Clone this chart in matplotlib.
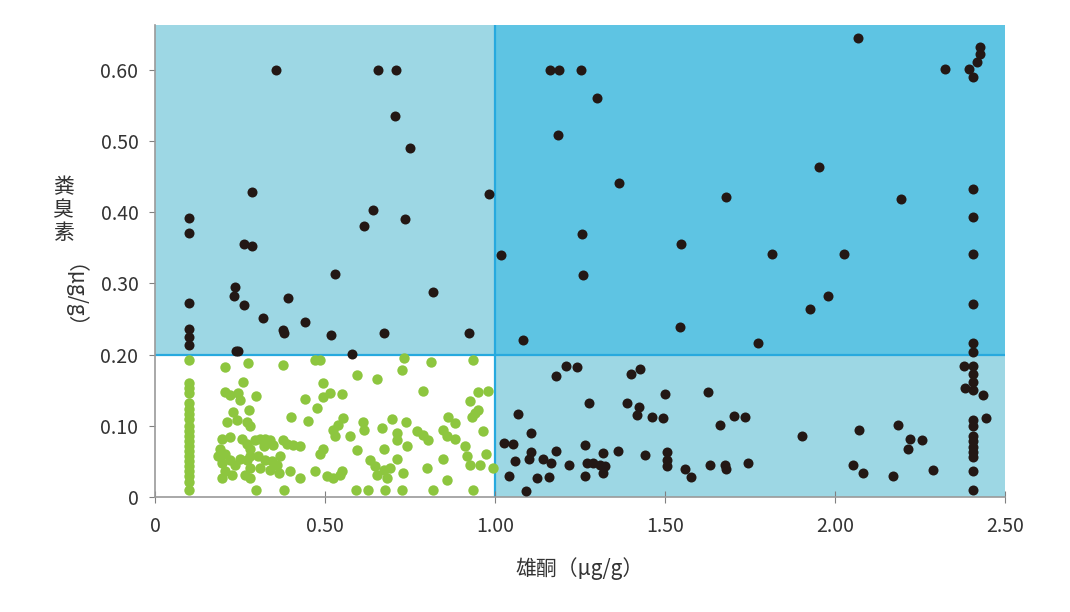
import matplotlib
matplotlib.use("Agg")
import matplotlib.pyplot as plt

# thresholds that split the chart into four zones
X_SPLIT = 1.0
Y_SPLIT = 0.2

x_ticks = [0, 0.5, 1.0, 1.5, 2.0, 2.5]
x_tick_labels = ["0", "0.50", "1.00", "1.50", "2.00", "2.50"]
y_ticks = [0, 0.1, 0.2, 0.3, 0.4, 0.5, 0.6]
y_tick_labels = ["0", "0.10", "0.20", "0.30", "0.40", "0.50", "0.60"]

# samples above either threshold (black)
black_x = [
    0.355, 0.656, 0.710, 0.707, 0.749, 0.286, 0.983, 0.101, 0.101, 0.642,
    0.615, 0.734, 0.260, 0.286, 1.018, 0.529, 0.101, 0.235, 0.232, 0.390,
    0.818, 0.261, 0.316, 0.442, 0.101, 0.101, 0.101, 0.377, 0.380, 0.518,
    0.672, 0.925, 0.237, 0.245, 0.579,
    2.067, 2.426, 2.426, 2.419, 2.394, 2.407, 2.325, 1.162, 1.187, 1.252,
    1.300, 1.184, 1.954, 1.366, 1.679, 2.195, 2.407, 2.407, 1.256, 1.547,
    1.814, 2.026, 2.407, 1.258, 1.980, 1.928, 2.407, 1.543, 1.082, 1.773,
    2.407, 2.407,
    1.209, 1.242, 1.180, 1.426, 1.400, 2.380, 2.407, 2.407, 2.407, 2.382,
    2.407, 2.436, 1.501, 1.626, 1.277, 1.389, 1.424, 1.417, 1.462, 1.495,
    1.068, 1.702, 1.737, 1.661, 2.407, 2.407, 2.446, 2.072, 2.185, 1.904,
    2.221, 2.256, 2.216, 1.106, 1.026, 1.052, 1.107, 1.099, 1.058, 1.140,
    1.164, 1.180, 1.217, 1.265, 1.319, 1.361, 1.270, 1.289, 1.308, 1.324,
    1.319, 1.266, 1.442, 1.505, 1.505, 1.505, 1.559, 1.576, 1.632, 1.676,
    1.681, 1.744, 1.042, 1.124, 1.159, 1.091, 2.053, 2.084, 2.172, 2.288,
    2.407, 2.407, 2.407, 2.407, 2.407, 2.407, 2.407,
]
black_y = [
    0.600, 0.600, 0.600, 0.535, 0.491, 0.429, 0.426, 0.392, 0.371, 0.403,
    0.381, 0.391, 0.356, 0.352, 0.340, 0.313, 0.273, 0.295, 0.283, 0.280,
    0.288, 0.270, 0.252, 0.246, 0.236, 0.225, 0.213, 0.234, 0.230, 0.227,
    0.231, 0.231, 0.205, 0.205, 0.201,
    0.645, 0.632, 0.623, 0.611, 0.601, 0.590, 0.601, 0.600, 0.600, 0.600,
    0.561, 0.508, 0.464, 0.441, 0.421, 0.418, 0.433, 0.393, 0.369, 0.355,
    0.342, 0.341, 0.341, 0.312, 0.283, 0.264, 0.271, 0.239, 0.221, 0.217,
    0.217, 0.204,
    0.184, 0.183, 0.170, 0.180, 0.173, 0.184, 0.184, 0.173, 0.161, 0.153,
    0.150, 0.143, 0.144, 0.148, 0.132, 0.132, 0.126, 0.115, 0.112, 0.111,
    0.117, 0.114, 0.112, 0.101, 0.108, 0.100, 0.111, 0.094, 0.101, 0.085,
    0.081, 0.080, 0.068, 0.090, 0.076, 0.074, 0.063, 0.053, 0.051, 0.054,
    0.047, 0.065, 0.045, 0.073, 0.062, 0.065, 0.048, 0.047, 0.045, 0.044,
    0.033, 0.029, 0.059, 0.063, 0.052, 0.043, 0.039, 0.028, 0.045, 0.045,
    0.039, 0.048, 0.030, 0.027, 0.028, 0.009, 0.045, 0.034, 0.029, 0.038,
    0.085, 0.078, 0.070, 0.063, 0.056, 0.037, 0.010,
]

# samples below both thresholds (green)
green_x = [
    0.101, 0.101, 0.101, 0.101, 0.101, 0.101, 0.101, 0.101, 0.101, 0.101,
    0.101, 0.101, 0.101, 0.101, 0.101, 0.101, 0.101, 0.101, 0.101, 0.101,
    0.101,
    0.206, 0.273, 0.376, 0.471, 0.485, 0.733, 0.812, 0.936, 0.594, 0.653,
    0.727, 0.258, 0.494, 0.789, 0.206, 0.220, 0.245, 0.250, 0.297, 0.441,
    0.495, 0.515, 0.551, 0.475, 0.951, 0.980, 0.926, 0.228, 0.277, 0.400,
    0.449, 0.211, 0.240, 0.270, 0.279, 0.554, 0.613, 0.696, 0.737, 0.863,
    0.882, 0.941, 0.951, 0.931, 0.524, 0.539, 0.529, 0.574, 0.616, 0.669,
    0.711, 0.711, 0.770, 0.789, 0.804, 0.848, 0.858, 0.882, 0.966, 0.196,
    0.220, 0.255, 0.270, 0.294, 0.309, 0.324, 0.338, 0.348, 0.377, 0.387,
    0.407, 0.427, 0.319, 0.279, 0.191, 0.206, 0.186, 0.196, 0.220, 0.235,
    0.250, 0.270, 0.279, 0.304, 0.324, 0.343, 0.368, 0.358, 0.309, 0.279,
    0.338, 0.363, 0.495, 0.485, 0.593, 0.632, 0.672, 0.711, 0.740, 0.848,
    0.912, 0.917, 0.926, 0.956, 0.975, 0.995, 0.206, 0.196, 0.225, 0.265,
    0.279, 0.397, 0.427, 0.471, 0.505, 0.524, 0.544, 0.549, 0.647, 0.652,
    0.672, 0.691, 0.681, 0.730, 0.799, 0.858, 0.297, 0.380, 0.590, 0.625,
    0.677, 0.725, 0.817, 0.934,
]
green_y = [
    0.192, 0.160, 0.153, 0.146, 0.132, 0.124, 0.117, 0.110, 0.099, 0.092,
    0.085, 0.078, 0.071, 0.064, 0.057, 0.050, 0.043, 0.036, 0.029, 0.021,
    0.010,
    0.182, 0.188, 0.186, 0.193, 0.192, 0.195, 0.190, 0.192, 0.171, 0.166,
    0.178, 0.162, 0.160, 0.149, 0.148, 0.143, 0.146, 0.136, 0.142, 0.138,
    0.141, 0.146, 0.145, 0.125, 0.147, 0.149, 0.135, 0.120, 0.122, 0.113,
    0.107, 0.106, 0.108, 0.106, 0.099, 0.111, 0.106, 0.110, 0.106, 0.113,
    0.104, 0.118, 0.122, 0.113, 0.094, 0.101, 0.085, 0.085, 0.094, 0.097,
    0.090, 0.080, 0.092, 0.087, 0.080, 0.094, 0.085, 0.082, 0.092, 0.082,
    0.084, 0.082, 0.075, 0.080, 0.082, 0.082, 0.080, 0.073, 0.080, 0.075,
    0.073, 0.071, 0.071, 0.068, 0.068, 0.061, 0.057, 0.047, 0.052, 0.045,
    0.054, 0.052, 0.057, 0.057, 0.052, 0.050, 0.057, 0.045, 0.040, 0.040,
    0.038, 0.033, 0.068, 0.061, 0.066, 0.052, 0.068, 0.054, 0.071, 0.054,
    0.071, 0.057, 0.045, 0.045, 0.061, 0.040, 0.036, 0.026, 0.031, 0.031,
    0.026, 0.036, 0.026, 0.036, 0.029, 0.026, 0.031, 0.036, 0.043, 0.031,
    0.038, 0.040, 0.026, 0.033, 0.040, 0.024, 0.010, 0.010, 0.010, 0.010,
    0.010, 0.010, 0.010, 0.010,
]

plt.rcParams["font.family"] = ["Noto Sans CJK SC", "DejaVu Sans"]

fig = plt.figure(figsize=(10.7, 6.12), dpi=100)
ax = fig.add_axes([0.145, 0.188, 0.794, 0.771])

x_max = x_ticks[-1]
y_max = 0.663
ax.set_xlim(0, x_max)
ax.set_ylim(0, y_max)

light_blue = "#9dd7e4"
dark_blue = "#5ec4e3"
line_blue = "#27a9de"

# background zones
ax.fill_between([0, X_SPLIT], Y_SPLIT, y_max, color=light_blue, lw=0, zorder=0)
ax.fill_between([X_SPLIT, x_max], Y_SPLIT, y_max, color=dark_blue, lw=0, zorder=0)
ax.fill_between([X_SPLIT, x_max], 0, Y_SPLIT, color=light_blue, lw=0, zorder=0)
ax.plot([X_SPLIT, X_SPLIT], [0, y_max], color=line_blue, lw=1.6, zorder=1)
ax.plot([0, x_max], [Y_SPLIT, Y_SPLIT], color=line_blue, lw=1.6, zorder=1)

ax.scatter(green_x, green_y, s=56, color="#8dc63f", lw=0, zorder=2)
ax.scatter(black_x, black_y, s=52, color="#231815", lw=0, zorder=3)

for side in ["top", "right"]:
    ax.spines[side].set_visible(False)
for side in ["left", "bottom"]:
    ax.spines[side].set_color("#9a9a9a")
    ax.spines[side].set_linewidth(1.2)

ax.set_xticks(x_ticks)
ax.set_xticklabels(x_tick_labels)
ax.set_yticks(y_ticks)
ax.set_yticklabels(y_tick_labels)
ax.tick_params(axis="x", direction="inout", length=8, color="#808080",
               labelsize=14, labelcolor="#333333", pad=10)
ax.tick_params(axis="y", direction="out", length=4, color="#808080",
               labelsize=14, labelcolor="#333333", pad=8)

ax.set_xlabel("雄酮（μg/g）", fontsize=15, color="#333333", labelpad=14)

# vertical-style y label: upright CJK characters, rotated unit below them
fig.text(0.059, 0.712, "粪\n臭\n素", fontsize=15, color="#333333",
         ha="center", va="top", linespacing=1.05)
fig.text(0.059, 0.498, "（μg/g）", fontsize=15, color="#333333",
         ha="center", va="center", rotation=-90)

fig.savefig("out.png", dpi=100)
plt.close(fig)
